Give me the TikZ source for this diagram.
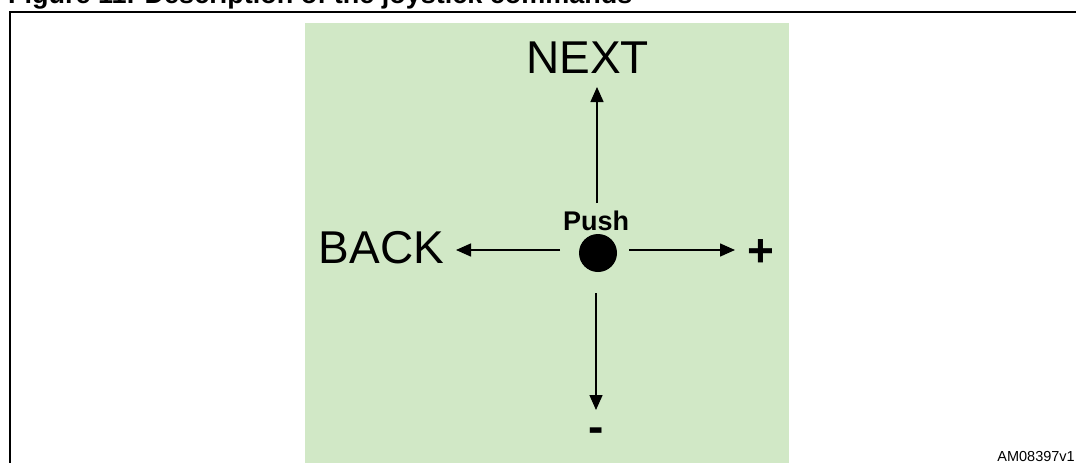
\documentclass[tikz,border=0pt]{standalone}
\usepackage{fontspec}
\setmainfont{Liberation Sans}
\usetikzlibrary{arrows.meta}
\definecolor{panelgreen}{RGB}{209,232,198}
\begin{document}
\begin{tikzpicture}[x=1pt,y=-1pt,
  lbl/.style={inner sep=0pt, anchor=base, font=\fontsize{46}{50}\selectfont},
  sign/.style={lbl, font=\bfseries\fontsize{46}{50}\selectfont},
  arr/.style={line width=1.5pt, -{Triangle[length=15pt,width=13pt]}},
  frame/.style={line width=2.4pt}]
\useasboundingbox (0,0) rectangle (1076,463);
\fill[panelgreen] (305,23) rectangle (789,463);
\draw[frame] (10,463) -- (10,12) -- (1076,12);
\node[anchor=base west, inner sep=0pt, font=\bfseries\fontsize{27}{30}\selectfont] (title) at (8,4) {Figure 11.\hspace{10.5pt}Description of the joystick commands};
\node[lbl] (next) at (587.5,73.5) {NEXT};
\node[lbl] (back) at (381.5,263) {BACK};
\node[sign] (plus) at (761,266) {+};
\node[sign] (minus) at (596,442) {-};
\node[circle, fill=black, minimum size=38pt, inner sep=0pt] (dot) at (598,253) {};
\node[anchor=base, inner sep=0pt, font=\bfseries\fontsize{27}{30}\selectfont] (push) at (596,230) {Push};
\node[anchor=base east, inner sep=0pt, font=\fontsize{14.5}{16}\selectfont] (id) at (1075,461) {AM08397v1};
\coordinate (nS) at (597,203); \coordinate (nE) at (597,87);
\coordinate (sS) at (596,293); \coordinate (sE) at (596,410);
\coordinate (wS) at (560,250); \coordinate (wE) at (456,250);
\coordinate (eS) at (629,250); \coordinate (eE) at (735,250);
\draw[arr] (nS) -- (nE);
\draw[arr] (sS) -- (sE);
\draw[arr] (wS) -- (wE);
\draw[arr] (eS) -- (eE);
\end{tikzpicture}
\end{document}
